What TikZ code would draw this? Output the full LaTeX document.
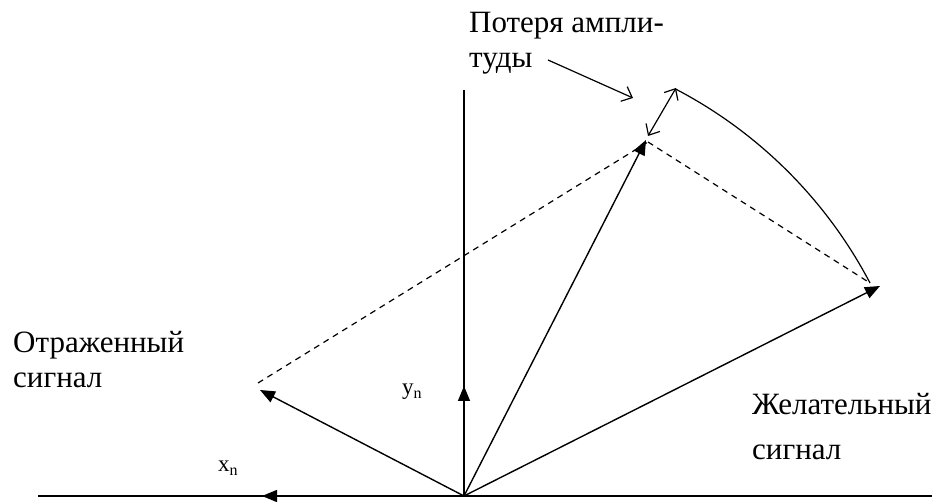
\documentclass[tikz,border=0pt]{standalone}
\usepackage{fontspec}
\setmainfont{Liberation Serif}
\usetikzlibrary{arrows.meta}
\begin{document}
\begin{tikzpicture}[x=1pt,y=1pt,
  vec/.style={line width=1.4pt,-{Triangle[length=15pt,width=12pt]}},
  axisline/.style={line width=1.4pt},
  dashline/.style={line width=1.2pt,dash pattern=on 6pt off 5pt},
  barb/.style={line width=1.2pt,-{Straight Barb[length=9pt,width=16pt]}},
  lbl/.style={anchor=base west,inner sep=0pt,font=\fontsize{31}{31}\selectfont},
  sub/.style={anchor=base west,inner sep=0pt,font=\fontsize{23}{23}\selectfont}]
\useasboundingbox (0,0) rectangle (942,502);
% key points
\coordinate (O) at (464,6);
\coordinate (L) at (38,6);
\coordinate (Rt) at (932,6);
\coordinate (T) at (464,412);
\coordinate (X) at (262,6);
\coordinate (Y) at (464,116);
\coordinate (R) at (260,112);
\coordinate (Rd) at (258,119);
\coordinate (S) at (646,362);
\coordinate (Sd) at (648,360);
\coordinate (D) at (880,216);
\coordinate (Dd) at (870,219);
\coordinate (A1) at (648,366);
\coordinate (A2) at (676,414);
\coordinate (P1) at (548,442);
\coordinate (P2) at (633,404);
% axes
\draw[axisline] (L) -- (Rt);
\draw[axisline] (O) -- (T);
% vectors
\draw[vec] (O) -- (X);
\draw[vec] (O) -- (Y);
\draw[vec] (O) -- (R);
\draw[vec] (O) -- (S);
\draw[vec] (O) -- (D);
% dashed parallelogram sides
\draw[dashline] (Rd) -- (Sd);
\draw[dashline] (Sd) -- (Dd);
% arc
\draw[line width=1.2pt] (Dd) arc[start angle=27.7, end angle=62.5, radius=460];
% amplitude loss
\draw[barb,{Straight Barb[length=9pt,width=16pt]}-{Straight Barb[length=9pt,width=16pt]}] (A1) -- (A2);
\draw[barb] (P1) -- (P2);
% labels
\node[lbl] (t1) at (469,469) {Потеря ампли-};
\node[lbl] (t2) at (469,434) {туды};
\node[lbl] (r1) at (13,149) {Отраженный};
\node[lbl] (r2) at (13,114) {сигнал};
\node[lbl] (d1) at (752,87) {Желательный};
\node[lbl] (d2) at (752,42) {сигнал};
\node[sub] (xn) at (218,30) {x\raisebox{-4pt}{\fontsize{16}{16}\selectfont n}};
\node[sub] (yn) at (402,107) {y\raisebox{-4pt}{\fontsize{16}{16}\selectfont n}};
\end{tikzpicture}
\end{document}
